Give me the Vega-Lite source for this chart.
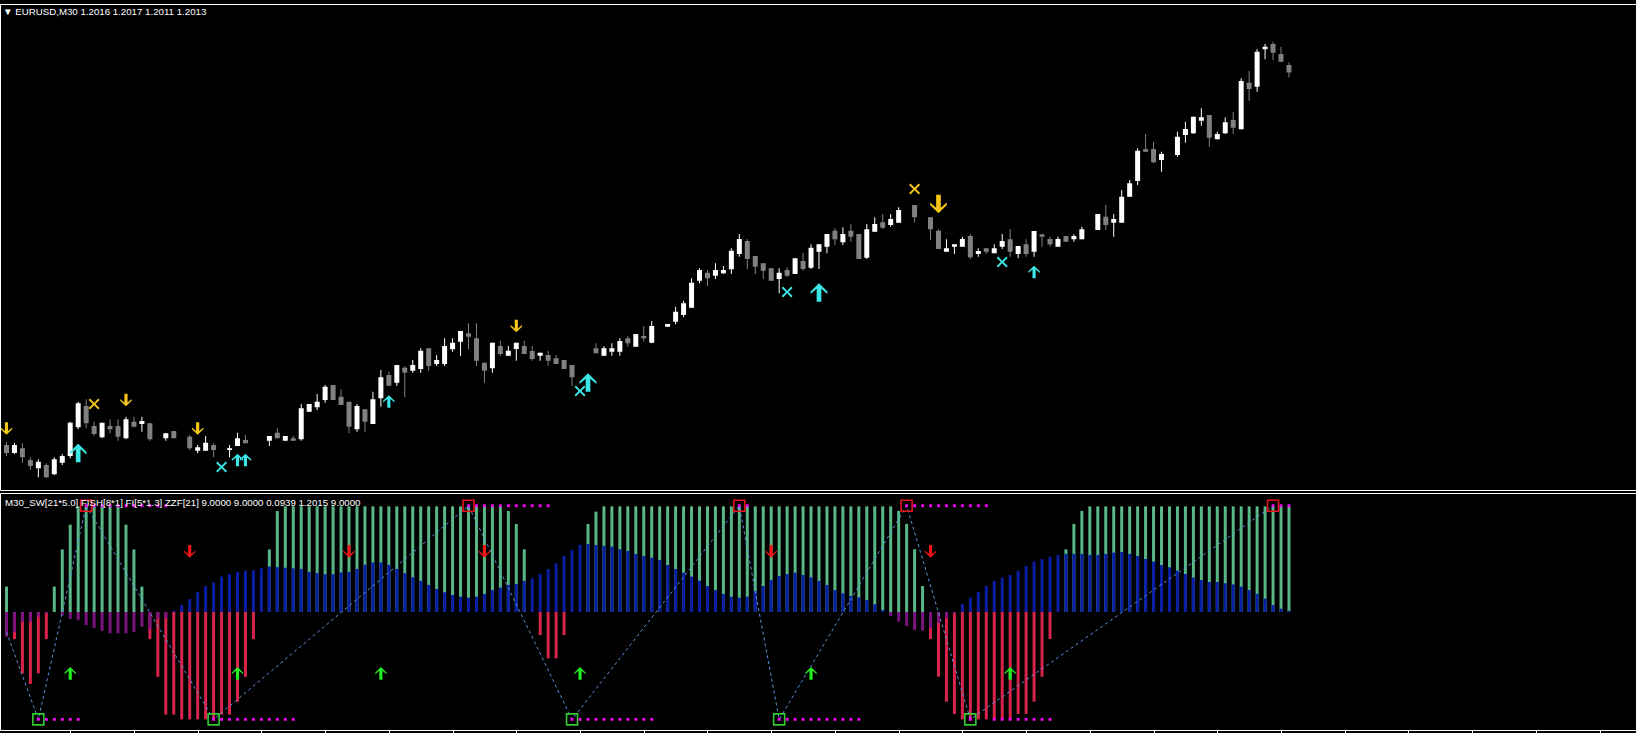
{
"$schema": "https://vega.github.io/schema/vega-lite/v6.json",
"background": "#000000",
"autosize": {"type": "none"},
"padding": {"left": 0, "top": 4, "right": 0, "bottom": 0},
"params": [{"name": "width", "value": 1636}, {"name": "height", "value": 729}],
"bounds": "flush",
"spacing": 3,
"config": {
  "view": {"stroke": "#ffffff", "strokeWidth": 1},
  "axis": {"grid": false, "labels": false, "domain": false, "ticks": true, "tickColor": "#ffffff", "tickSize": 3, "tickWidth": 1, "title": null}
},
"datasets": {
"candles": [
{"i":0,"o":1.1864,"h":1.18652,"l":1.18596,"c":1.18608},
{"i":1,"o":1.18608,"h":1.18649,"l":1.18604,"c":1.1864},
{"i":2,"o":1.18627,"h":1.18647,"l":1.18569,"c":1.18591},
{"i":3,"o":1.1858,"h":1.18591,"l":1.1854,"c":1.18556},
{"i":4,"o":1.18547,"h":1.18583,"l":1.18511,"c":1.18573},
{"i":5,"o":1.1856,"h":1.18567,"l":1.18508,"c":1.18511},
{"i":6,"o":1.18523,"h":1.18591,"l":1.1852,"c":1.18583},
{"i":7,"o":1.18569,"h":1.18604,"l":1.1856,"c":1.18596},
{"i":8,"o":1.18596,"h":1.18733,"l":1.18587,"c":1.18729},
{"i":9,"o":1.18711,"h":1.18813,"l":1.18703,"c":1.18807},
{"i":10,"o":1.18796,"h":1.18823,"l":1.18707,"c":1.18727},
{"i":11,"o":1.18716,"h":1.18733,"l":1.18676,"c":1.18684},
{"i":12,"o":1.18671,"h":1.18729,"l":1.18667,"c":1.18729},
{"i":13,"o":1.18716,"h":1.18743,"l":1.18687,"c":1.18703},
{"i":14,"o":1.18716,"h":1.18743,"l":1.18657,"c":1.18673},
{"i":15,"o":1.18667,"h":1.18753,"l":1.18663,"c":1.18743},
{"i":16,"o":1.18733,"h":1.18753,"l":1.18711,"c":1.18713},
{"i":17,"o":1.18724,"h":1.18753,"l":1.18693,"c":1.18736},
{"i":18,"o":1.18727,"h":1.18729,"l":1.18657,"c":1.18663},
{"i":20,"o":1.18667,"h":1.18687,"l":1.18657,"c":1.18687},
{"i":21,"o":1.18696,"h":1.18696,"l":1.18667,"c":1.18667},
{"i":23,"o":1.18673,"h":1.1868,"l":1.1862,"c":1.18627},
{"i":24,"o":1.18617,"h":1.1864,"l":1.18607,"c":1.18631},
{"i":25,"o":1.18617,"h":1.18676,"l":1.18617,"c":1.18649},
{"i":26,"o":1.1864,"h":1.18647,"l":1.18591,"c":1.1862},
{"i":28,"o":1.1862,"h":1.1864,"l":1.18591,"c":1.18627},
{"i":29,"o":1.18636,"h":1.18689,"l":1.18636,"c":1.18667},
{"i":30,"o":1.1866,"h":1.1868,"l":1.18647,"c":1.18647},
{"i":33,"o":1.18657,"h":1.18676,"l":1.18636,"c":1.18676},
{"i":34,"o":1.18689,"h":1.18707,"l":1.18667,"c":1.18667},
{"i":35,"o":1.18657,"h":1.18676,"l":1.18657,"c":1.18676},
{"i":36,"o":1.18667,"h":1.18676,"l":1.18657,"c":1.18657},
{"i":37,"o":1.18663,"h":1.18804,"l":1.18657,"c":1.18787},
{"i":38,"o":1.18773,"h":1.18804,"l":1.18773,"c":1.18804},
{"i":39,"o":1.18791,"h":1.18844,"l":1.1878,"c":1.18813},
{"i":40,"o":1.1882,"h":1.1888,"l":1.18809,"c":1.18873},
{"i":41,"o":1.1888,"h":1.1888,"l":1.1882,"c":1.1882},
{"i":42,"o":1.18833,"h":1.18863,"l":1.188,"c":1.188},
{"i":43,"o":1.18813,"h":1.18813,"l":1.18687,"c":1.18713},
{"i":44,"o":1.18703,"h":1.18804,"l":1.18693,"c":1.18796},
{"i":45,"o":1.18783,"h":1.18783,"l":1.18693,"c":1.18733},
{"i":46,"o":1.18724,"h":1.18853,"l":1.18724,"c":1.18823},
{"i":47,"o":1.18827,"h":1.1894,"l":1.18793,"c":1.18911},
{"i":48,"o":1.1892,"h":1.18933,"l":1.18877,"c":1.18877},
{"i":49,"o":1.18889,"h":1.1896,"l":1.18876,"c":1.1896},
{"i":50,"o":1.18949,"h":1.18956,"l":1.18831,"c":1.18929},
{"i":51,"o":1.18937,"h":1.1898,"l":1.18929,"c":1.1896},
{"i":52,"o":1.18944,"h":1.19027,"l":1.18929,"c":1.19017},
{"i":53,"o":1.19027,"h":1.19027,"l":1.18937,"c":1.18956},
{"i":54,"o":1.18964,"h":1.19,"l":1.18956,"c":1.1898},
{"i":55,"o":1.18964,"h":1.19067,"l":1.18956,"c":1.19036},
{"i":56,"o":1.19023,"h":1.19067,"l":1.19013,"c":1.19049},
{"i":57,"o":1.19053,"h":1.19096,"l":1.18996,"c":1.19096},
{"i":58,"o":1.19087,"h":1.19127,"l":1.19023,"c":1.19073},
{"i":59,"o":1.19067,"h":1.19127,"l":1.18956,"c":1.18977},
{"i":60,"o":1.18969,"h":1.18969,"l":1.18889,"c":1.18937},
{"i":61,"o":1.18947,"h":1.19049,"l":1.18929,"c":1.19049},
{"i":62,"o":1.19036,"h":1.19057,"l":1.18996,"c":1.19004},
{"i":63,"o":1.18997,"h":1.19036,"l":1.18997,"c":1.19017},
{"i":64,"o":1.19024,"h":1.19049,"l":1.18977,"c":1.19049},
{"i":65,"o":1.19036,"h":1.19057,"l":1.19004,"c":1.19004},
{"i":66,"o":1.19016,"h":1.19036,"l":1.18977,"c":1.18984},
{"i":67,"o":1.18997,"h":1.19009,"l":1.18977,"c":1.19009},
{"i":68,"o":1.19,"h":1.19016,"l":1.18957,"c":1.18977},
{"i":69,"o":1.18987,"h":1.19,"l":1.18964,"c":1.18964},
{"i":70,"o":1.1898,"h":1.1898,"l":1.18944,"c":1.18944},
{"i":71,"o":1.1896,"h":1.1896,"l":1.18876,"c":1.18911},
{"i":74,"o":1.19027,"h":1.19047,"l":1.19007,"c":1.19007},
{"i":75,"o":1.18997,"h":1.19036,"l":1.18997,"c":1.19027},
{"i":76,"o":1.19013,"h":1.19047,"l":1.18997,"c":1.19027},
{"i":77,"o":1.19013,"h":1.19067,"l":1.18997,"c":1.19056},
{"i":78,"o":1.19067,"h":1.19076,"l":1.19033,"c":1.19047},
{"i":79,"o":1.19033,"h":1.19084,"l":1.19033,"c":1.19084},
{"i":80,"o":1.19076,"h":1.19116,"l":1.19053,"c":1.19067},
{"i":81,"o":1.19049,"h":1.19136,"l":1.19047,"c":1.19116},
{"i":83,"o":1.19113,"h":1.19124,"l":1.19113,"c":1.19124},
{"i":84,"o":1.19133,"h":1.19193,"l":1.19123,"c":1.19173},
{"i":85,"o":1.1916,"h":1.19217,"l":1.19151,"c":1.19207},
{"i":86,"o":1.19189,"h":1.19307,"l":1.19189,"c":1.19289},
{"i":87,"o":1.19297,"h":1.19347,"l":1.19287,"c":1.1934},
{"i":88,"o":1.19329,"h":1.1934,"l":1.19276,"c":1.19307},
{"i":89,"o":1.19317,"h":1.19367,"l":1.19304,"c":1.1934},
{"i":90,"o":1.19327,"h":1.19356,"l":1.19324,"c":1.1934},
{"i":91,"o":1.19343,"h":1.19427,"l":1.19324,"c":1.19417},
{"i":92,"o":1.19404,"h":1.19484,"l":1.19393,"c":1.19464},
{"i":93,"o":1.19456,"h":1.19464,"l":1.19344,"c":1.19384},
{"i":94,"o":1.19396,"h":1.19396,"l":1.19324,"c":1.19353},
{"i":95,"o":1.19367,"h":1.19367,"l":1.19304,"c":1.19337},
{"i":96,"o":1.19347,"h":1.19347,"l":1.19297,"c":1.19297},
{"i":97,"o":1.19304,"h":1.19347,"l":1.19247,"c":1.19329},
{"i":98,"o":1.1934,"h":1.19351,"l":1.19313,"c":1.19317},
{"i":99,"o":1.19324,"h":1.19387,"l":1.19324,"c":1.19387},
{"i":100,"o":1.19376,"h":1.19409,"l":1.19337,"c":1.19344},
{"i":101,"o":1.19349,"h":1.19443,"l":1.19344,"c":1.19429},
{"i":102,"o":1.19413,"h":1.19443,"l":1.19344,"c":1.19443},
{"i":103,"o":1.19433,"h":1.19484,"l":1.19407,"c":1.19484},
{"i":104,"o":1.19497,"h":1.19507,"l":1.1944,"c":1.19463},
{"i":105,"o":1.19451,"h":1.19511,"l":1.1944,"c":1.19484},
{"i":106,"o":1.19497,"h":1.19524,"l":1.19453,"c":1.19473},
{"i":107,"o":1.19484,"h":1.19484,"l":1.19384,"c":1.19384},
{"i":108,"o":1.19389,"h":1.19524,"l":1.19384,"c":1.19503},
{"i":109,"o":1.19493,"h":1.19551,"l":1.19493,"c":1.19524},
{"i":110,"o":1.19531,"h":1.19564,"l":1.19503,"c":1.19509},
{"i":111,"o":1.1952,"h":1.19564,"l":1.19513,"c":1.19544},
{"i":112,"o":1.19529,"h":1.19591,"l":1.19529,"c":1.1958},
{"i":114,"o":1.196,"h":1.196,"l":1.19529,"c":1.19551},
{"i":116,"o":1.19551,"h":1.19551,"l":1.1946,"c":1.19503},
{"i":117,"o":1.19497,"h":1.19503,"l":1.19424,"c":1.19424},
{"i":118,"o":1.19413,"h":1.19463,"l":1.19413,"c":1.19427},
{"i":119,"o":1.19433,"h":1.19443,"l":1.19404,"c":1.19443},
{"i":120,"o":1.19433,"h":1.19473,"l":1.19433,"c":1.19464},
{"i":121,"o":1.19476,"h":1.19484,"l":1.19384,"c":1.19391},
{"i":122,"o":1.19404,"h":1.19427,"l":1.19393,"c":1.19416},
{"i":123,"o":1.19427,"h":1.19427,"l":1.19404,"c":1.19413},
{"i":124,"o":1.19407,"h":1.19443,"l":1.19407,"c":1.19427},
{"i":125,"o":1.19433,"h":1.19484,"l":1.19424,"c":1.19456},
{"i":126,"o":1.19463,"h":1.19504,"l":1.19393,"c":1.19413},
{"i":127,"o":1.19404,"h":1.19436,"l":1.19387,"c":1.19436},
{"i":128,"o":1.19443,"h":1.19463,"l":1.19393,"c":1.19404},
{"i":129,"o":1.19413,"h":1.19496,"l":1.19393,"c":1.19496},
{"i":130,"o":1.19483,"h":1.19483,"l":1.19433,"c":1.19473},
{"i":131,"o":1.19464,"h":1.19473,"l":1.19433,"c":1.19443},
{"i":132,"o":1.19433,"h":1.19473,"l":1.19433,"c":1.19464},
{"i":133,"o":1.19476,"h":1.19476,"l":1.19453,"c":1.19453},
{"i":134,"o":1.19463,"h":1.19483,"l":1.19453,"c":1.19476},
{"i":135,"o":1.19463,"h":1.19513,"l":1.19463,"c":1.19503},
{"i":137,"o":1.195,"h":1.19564,"l":1.195,"c":1.19564},
{"i":138,"o":1.19553,"h":1.196,"l":1.195,"c":1.1952},
{"i":139,"o":1.19529,"h":1.19564,"l":1.19473,"c":1.19544},
{"i":140,"o":1.19529,"h":1.1966,"l":1.19529,"c":1.19633},
{"i":141,"o":1.19633,"h":1.197,"l":1.19633,"c":1.19687},
{"i":142,"o":1.19696,"h":1.19827,"l":1.1968,"c":1.19817},
{"i":143,"o":1.19823,"h":1.19884,"l":1.19813,"c":1.19813},
{"i":144,"o":1.19824,"h":1.19853,"l":1.19767,"c":1.19771},
{"i":145,"o":1.1978,"h":1.19813,"l":1.19733,"c":1.19804},
{"i":147,"o":1.198,"h":1.19893,"l":1.19793,"c":1.19873},
{"i":148,"o":1.1988,"h":1.19933,"l":1.19849,"c":1.19904},
{"i":149,"o":1.19887,"h":1.19953,"l":1.19884,"c":1.19953},
{"i":150,"o":1.19937,"h":1.19987,"l":1.19917,"c":1.19951},
{"i":151,"o":1.1996,"h":1.1996,"l":1.19833,"c":1.19869},
{"i":152,"o":1.19863,"h":1.19893,"l":1.19863,"c":1.19884},
{"i":153,"o":1.19887,"h":1.19951,"l":1.19884,"c":1.19931},
{"i":154,"o":1.1994,"h":1.19973,"l":1.19884,"c":1.19909},
{"i":155,"o":1.19903,"h":1.20107,"l":1.19903,"c":1.20096},
{"i":156,"o":1.20089,"h":1.20136,"l":1.20017,"c":1.20064},
{"i":157,"o":1.20073,"h":1.20223,"l":1.20053,"c":1.20213},
{"i":158,"o":1.20223,"h":1.20244,"l":1.20183,"c":1.20233},
{"i":159,"o":1.20244,"h":1.20253,"l":1.2018,"c":1.20209},
{"i":160,"o":1.20204,"h":1.20233,"l":1.20173,"c":1.20173},
{"i":161,"o":1.2016,"h":1.2017,"l":1.2011,"c":1.2013}
],
"signals": [
{"i":0,"p":1.18706,"s":"sell"},
{"i":15,"p":1.1882,"s":"sell"},
{"i":24,"p":1.18706,"s":"sell"},
{"i":64,"p":1.19116,"s":"sell"},
{"i":117,"p":1.19604,"s":"strong sell"},
{"i":11,"p":1.18804,"s":"exit buy"},
{"i":114,"p":1.19664,"s":"exit buy"},
{"i":9,"p":1.18608,"s":"strong buy"},
{"i":29,"p":1.1858,"s":"buy"},
{"i":30,"p":1.1858,"s":"buy"},
{"i":48,"p":1.18814,"s":"buy"},
{"i":73,"p":1.1889,"s":"strong buy"},
{"i":102,"p":1.1925,"s":"strong buy"},
{"i":129,"p":1.19332,"s":"buy"},
{"i":27,"p":1.18552,"s":"exit sell"},
{"i":72,"p":1.18856,"s":"exit sell"},
{"i":98,"p":1.19252,"s":"exit sell"},
{"i":125,"p":1.19372,"s":"exit sell"}
],
"osc": [
{"i":0,"a":2.15,"b":-2.1},{"i":1,"a":-2.3,"b":-1.7},{"i":2,"a":-5.2,"b":-0.85},{"i":3,"a":-6.1,"b":-0.85},
{"i":4,"a":-5.2,"b":-0.4},{"i":5,"a":-2.3,"b":-0.1},{"i":6,"a":2.15,"b":0},{"i":7,"a":5.3,"b":-0.3},
{"i":8,"a":7.4,"b":-0.6},{"i":9,"a":8.95,"b":-0.7},{"i":10,"a":8.95,"b":-1.1},{"i":11,"a":8.95,"b":-1.35},
{"i":12,"a":8.95,"b":-1.6},{"i":13,"a":8.95,"b":-1.8},{"i":14,"a":8.95,"b":-1.8},{"i":15,"a":7.4,"b":-1.8},
{"i":16,"a":5.3,"b":-1.7},{"i":17,"a":2.15,"b":-1.25},{"i":18,"a":-2.3,"b":-1.45},{"i":19,"a":-5.5,"b":-0.55},
{"i":20,"a":-8.7,"b":-0.55},{"i":21,"a":-8.7,"b":0.1},{"i":22,"a":-9.1,"b":0.6},{"i":23,"a":-9.1,"b":1.1},
{"i":24,"a":-9.1,"b":1.7},{"i":25,"a":-9.1,"b":2.2},{"i":26,"a":-9.1,"b":2.5},{"i":27,"a":-8.7,"b":3.0},
{"i":28,"a":-8.7,"b":3.2},{"i":29,"a":-7.6,"b":3.4},{"i":30,"a":-5.5,"b":3.5},{"i":31,"a":-2.3,"b":3.55},
{"i":32,"a":0,"b":3.7},{"i":33,"a":5.3,"b":3.85},{"i":34,"a":8.55,"b":3.8},{"i":35,"a":8.95,"b":3.75},
{"i":36,"a":8.95,"b":3.7},{"i":37,"a":8.95,"b":3.65},{"i":38,"a":8.95,"b":3.4},{"i":39,"a":8.95,"b":3.3},
{"i":40,"a":8.95,"b":3.2},{"i":41,"a":8.95,"b":3.2},{"i":42,"a":8.95,"b":3.35},{"i":43,"a":8.95,"b":3.4},
{"i":44,"a":8.95,"b":3.65},{"i":45,"a":8.95,"b":4.0},{"i":46,"a":8.95,"b":4.2},{"i":47,"a":8.95,"b":4.2},
{"i":48,"a":8.95,"b":4.0},{"i":49,"a":8.95,"b":3.64},{"i":50,"a":8.95,"b":3.28},{"i":51,"a":8.95,"b":2.94},
{"i":52,"a":8.95,"b":2.63},{"i":53,"a":8.95,"b":2.29},{"i":54,"a":8.95,"b":1.95},{"i":55,"a":8.95,"b":1.67},
{"i":56,"a":8.95,"b":1.44},{"i":57,"a":8.95,"b":1.3},{"i":58,"a":8.95,"b":1.21},{"i":59,"a":8.95,"b":1.3},
{"i":60,"a":8.95,"b":1.53},{"i":61,"a":8.95,"b":1.86},{"i":62,"a":8.95,"b":2.06},{"i":63,"a":8.56,"b":2.29},
{"i":64,"a":7.46,"b":2.37},{"i":65,"a":5.31,"b":2.63},{"i":66,"a":0,"b":2.85},{"i":67,"a":-1.95,"b":3.22},
{"i":68,"a":-3.93,"b":3.64},{"i":69,"a":-3.93,"b":4.12},{"i":70,"a":-1.95,"b":4.75},{"i":71,"a":0,"b":5.25},
{"i":72,"a":0,"b":5.68},{"i":73,"a":7.46,"b":5.76},{"i":74,"a":8.5,"b":5.68},{"i":75,"a":8.95,"b":5.6},
{"i":76,"a":8.95,"b":5.54},{"i":77,"a":8.95,"b":5.31},{"i":78,"a":8.95,"b":5.17},{"i":79,"a":8.95,"b":4.92},
{"i":80,"a":8.95,"b":4.75},{"i":81,"a":8.95,"b":4.6},{"i":82,"a":8.95,"b":4.4},{"i":83,"a":8.95,"b":3.98},
{"i":84,"a":8.95,"b":3.64},{"i":85,"a":8.95,"b":3.33},{"i":86,"a":8.95,"b":3.0},{"i":87,"a":8.95,"b":2.66},
{"i":88,"a":8.95,"b":2.2},{"i":89,"a":8.95,"b":1.86},{"i":90,"a":8.95,"b":1.53},{"i":91,"a":8.95,"b":1.3},
{"i":92,"a":8.95,"b":1.21},{"i":93,"a":8.95,"b":1.3},{"i":94,"a":8.95,"b":1.78},{"i":95,"a":8.95,"b":2.2},
{"i":96,"a":8.95,"b":2.71},{"i":97,"a":8.95,"b":3.05},{"i":98,"a":8.95,"b":3.22},{"i":99,"a":8.95,"b":3.33},
{"i":100,"a":8.95,"b":3.14},{"i":101,"a":8.95,"b":2.94},{"i":102,"a":8.95,"b":2.63},{"i":103,"a":8.95,"b":2.29},
{"i":104,"a":8.95,"b":1.86},{"i":105,"a":8.95,"b":1.58},{"i":106,"a":8.95,"b":1.36},{"i":107,"a":8.95,"b":1.24},
{"i":108,"a":8.95,"b":1.02},{"i":109,"a":8.95,"b":0.65},{"i":110,"a":8.95,"b":0.17},{"i":111,"a":8.95,"b":-0.34},
{"i":112,"a":8.56,"b":-0.82},{"i":113,"a":7.46,"b":-1.19},{"i":114,"a":5.31,"b":-1.53},{"i":115,"a":2.2,"b":-1.58},
{"i":116,"a":-2.29,"b":-1.38},{"i":117,"a":-5.48,"b":-0.9},{"i":118,"a":-7.6,"b":-0.54},{"i":119,"a":-8.64,"b":-0.1},
{"i":120,"a":-9.1,"b":0.68},{"i":121,"a":-9.1,"b":1.21},{"i":122,"a":-9.1,"b":1.72},{"i":123,"a":-9.1,"b":2.2},
{"i":124,"a":-9.1,"b":2.63},{"i":125,"a":-9.1,"b":2.91},{"i":126,"a":-9.1,"b":3.14},{"i":127,"a":-8.64,"b":3.5},
{"i":128,"a":-8.64,"b":3.9},{"i":129,"a":-7.6,"b":4.27},{"i":130,"a":-5.48,"b":4.49},{"i":131,"a":-2.29,"b":4.69},
{"i":132,"a":0,"b":4.83},{"i":133,"a":5.31,"b":4.92},{"i":134,"a":7.46,"b":4.92},{"i":135,"a":8.56,"b":4.92},
{"i":136,"a":8.95,"b":4.83},{"i":137,"a":8.95,"b":4.83},{"i":138,"a":8.95,"b":4.92},{"i":139,"a":8.95,"b":5.03},
{"i":140,"a":8.95,"b":5.08},{"i":141,"a":8.95,"b":4.92},{"i":142,"a":8.95,"b":4.75},{"i":143,"a":8.95,"b":4.49},
{"i":144,"a":8.95,"b":4.27},{"i":145,"a":8.95,"b":3.98},{"i":146,"a":8.95,"b":3.79},{"i":147,"a":8.95,"b":3.5},
{"i":148,"a":8.95,"b":3.22},{"i":149,"a":8.95,"b":2.91},{"i":150,"a":8.95,"b":2.71},{"i":151,"a":8.95,"b":2.54},
{"i":152,"a":8.95,"b":2.54},{"i":153,"a":8.95,"b":2.43},{"i":154,"a":8.95,"b":2.34},{"i":155,"a":8.95,"b":2.15},
{"i":156,"a":8.95,"b":1.86},{"i":157,"a":8.95,"b":1.53},{"i":158,"a":8.95,"b":1.13},{"i":159,"a":8.95,"b":0.59},
{"i":160,"a":8.95,"b":0.28},{"i":161,"a":8.95,"b":0.11}
],
"zigzag": [
{"i":0,"v":-1.7},{"i":4,"v":-9.1},{"i":10,"v":9.0},{"i":26,"v":-9.1},{"i":58,"v":9.0},{"i":71,"v":-9.1},
{"i":92,"v":9.0},{"i":97,"v":-9.1},{"i":113,"v":9.0},{"i":121,"v":-9.1},{"i":159,"v":9.0}
],
"pivots": [
{"i":4,"v":-9.1,"k":"low"},{"i":10,"v":9.0,"k":"high"},{"i":26,"v":-9.1,"k":"low"},{"i":58,"v":9.0,"k":"high"},
{"i":71,"v":-9.1,"k":"low"},{"i":92,"v":9.0,"k":"high"},{"i":97,"v":-9.1,"k":"low"},{"i":113,"v":9.0,"k":"high"},
{"i":121,"v":-9.1,"k":"low"},{"i":159,"v":9.0,"k":"high"}
],
"dots": [
{"i":4,"v":-9.1},{"i":5,"v":-9.1},{"i":6,"v":-9.1},{"i":7,"v":-9.1},{"i":8,"v":-9.1},{"i":9,"v":-9.1},
{"i":10,"v":9.0},{"i":11,"v":9.0},{"i":12,"v":9.0},{"i":13,"v":9.0},{"i":14,"v":9.0},{"i":15,"v":9.0},{"i":16,"v":9.0},{"i":17,"v":9.0},{"i":18,"v":9.0},{"i":19,"v":9.0},{"i":20,"v":9.0},
{"i":26,"v":-9.1},{"i":27,"v":-9.1},{"i":28,"v":-9.1},{"i":29,"v":-9.1},{"i":30,"v":-9.1},{"i":31,"v":-9.1},{"i":32,"v":-9.1},{"i":33,"v":-9.1},{"i":34,"v":-9.1},{"i":35,"v":-9.1},{"i":36,"v":-9.1},
{"i":58,"v":9.0},{"i":59,"v":9.0},{"i":60,"v":9.0},{"i":61,"v":9.0},{"i":62,"v":9.0},{"i":63,"v":9.0},{"i":64,"v":9.0},{"i":65,"v":9.0},{"i":66,"v":9.0},{"i":67,"v":9.0},{"i":68,"v":9.0},
{"i":71,"v":-9.1},{"i":72,"v":-9.1},{"i":73,"v":-9.1},{"i":74,"v":-9.1},{"i":75,"v":-9.1},{"i":76,"v":-9.1},{"i":77,"v":-9.1},{"i":78,"v":-9.1},{"i":79,"v":-9.1},{"i":80,"v":-9.1},{"i":81,"v":-9.1},
{"i":92,"v":9.0},{"i":93,"v":9.0},
{"i":97,"v":-9.1},{"i":98,"v":-9.1},{"i":99,"v":-9.1},{"i":100,"v":-9.1},{"i":101,"v":-9.1},{"i":102,"v":-9.1},{"i":103,"v":-9.1},{"i":104,"v":-9.1},{"i":105,"v":-9.1},{"i":106,"v":-9.1},{"i":107,"v":-9.1},
{"i":113,"v":9.0},{"i":114,"v":9.0},{"i":115,"v":9.0},{"i":116,"v":9.0},{"i":117,"v":9.0},{"i":118,"v":9.0},{"i":119,"v":9.0},{"i":120,"v":9.0},{"i":121,"v":9.0},{"i":122,"v":9.0},{"i":123,"v":9.0},
{"i":121,"v":-9.1},{"i":124,"v":-9.1},{"i":125,"v":-9.1},{"i":126,"v":-9.1},{"i":127,"v":-9.1},{"i":128,"v":-9.1},{"i":129,"v":-9.1},{"i":130,"v":-9.1},{"i":131,"v":-9.1},
{"i":159,"v":9.0},{"i":160,"v":9.0},{"i":161,"v":9.0}
],
"oscSignals": [
{"i":23,"v":5.13,"s":"sell"},{"i":43,"v":5.13,"s":"sell"},{"i":60,"v":5.13,"s":"sell"},{"i":96,"v":5.13,"s":"sell"},{"i":116,"v":5.13,"s":"sell"},
{"i":8,"v":-5.2,"s":"buy"},{"i":29,"v":-5.2,"s":"buy"},{"i":47,"v":-5.2,"s":"buy"},{"i":72,"v":-5.2,"s":"buy"},{"i":101,"v":-5.2,"s":"buy"},{"i":126,"v":-5.2,"s":"buy"}
]
},
"vconcat": [
{
  "width": 1633, "height": 486,
  "title": {"text": "▼  EURUSD,M30  1.2016 1.2017 1.2011 1.2013", "anchor": "start", "frame": "group", "orient": "top", "offset": -18, "baseline": "middle", "dx": 3, "color": "#ffffff", "font": "Liberation Sans", "fontSize": 9.7, "fontWeight": "normal"},
  "encoding": {"x": {"field": "i", "type": "quantitative", "scale": {"domain": [-0.1875, 203.9375], "nice": false, "zero": false}, "axis": null}},
  "layer": [
    {"data": {"name": "candles"}, "mark": {"type": "rule", "strokeWidth": 1, "clip": true},
     "encoding": {
       "y": {"field": "l", "type": "quantitative", "scale": {"domain": [1.1846, 1.20404], "nice": false, "zero": false},
             "axis": {"orient": "right", "values": [1.20248, 1.20102, 1.19957, 1.19811, 1.19666, 1.1952, 1.19374, 1.19229, 1.19083, 1.18938, 1.18792, 1.18646, 1.18501]}},
       "y2": {"field": "h"},
       "color": {"condition": {"test": "datum.c < datum.o", "value": "#808080"}, "value": "#ffffff"}}},
    {"data": {"name": "candles"}, "mark": {"type": "bar", "width": 5, "clip": true},
     "encoding": {
       "y": {"field": "o", "type": "quantitative", "scale": {"domain": [1.1846, 1.20404], "nice": false, "zero": false}, "axis": null},
       "y2": {"field": "c"},
       "color": {"condition": {"test": "datum.c < datum.o", "value": "#808080"}, "value": "#ffffff"}}},
    {"data": {"name": "signals"}, "mark": {"type": "point", "filled": true, "opacity": 1, "strokeWidth": 0, "clip": true},
     "encoding": {
       "y": {"field": "p", "type": "quantitative", "scale": {"domain": [1.1846, 1.20404], "nice": false, "zero": false}, "axis": null},
       "shape": {"field": "s", "type": "nominal", "legend": null, "scale": {"domain": ["sell", "strong sell", "buy", "strong buy", "exit buy", "exit sell"], "range": [
          "M0,1L0.9,0.1L0.9,-0.15L0.25,0.4L0.25,-1L-0.25,-1L-0.25,0.4L-0.9,-0.15L-0.9,0.1Z",
          "M0,1L0.9,0.1L0.9,-0.15L0.25,0.4L0.25,-1L-0.25,-1L-0.25,0.4L-0.9,-0.15L-0.9,0.1Z",
          "M0,-1L0.9,-0.1L0.9,0.15L0.25,-0.4L0.25,1L-0.25,1L-0.25,-0.4L-0.9,0.15L-0.9,-0.1Z",
          "M0,-1L0.9,-0.1L0.9,0.15L0.25,-0.4L0.25,1L-0.25,1L-0.25,-0.4L-0.9,0.15L-0.9,-0.1Z",
          "M-1,-0.75L-0.75,-1L0,-0.25L0.75,-1L1,-0.75L0.25,0L1,0.75L0.75,1L0,0.25L-0.75,1L-1,0.75L-0.25,0Z",
          "M-1,-0.75L-0.75,-1L0,-0.25L0.75,-1L1,-0.75L0.25,0L1,0.75L0.75,1L0,0.25L-0.75,1L-1,0.75L-0.25,0Z"]}},
       "color": {"field": "s", "type": "nominal", "legend": null, "scale": {"domain": ["sell", "strong sell", "buy", "strong buy", "exit buy", "exit sell"], "range": ["#f5c518", "#f5c518", "#3ce6e6", "#3ce6e6", "#f5c518", "#3ce6e6"]}},
       "size": {"field": "s", "type": "nominal", "legend": null, "scale": {"type": "ordinal", "domain": ["sell", "strong sell", "buy", "strong buy", "exit buy", "exit sell"], "range": [160, 350, 160, 350, 120, 120]}}}}
  ]
},
{
  "width": 1633, "height": 237,
  "title": {"text": "M30_SW[21*5.0] FISH[8*1] FI[5*1.3] ZZF[21] 9.0000 9.0000 0.0939 1.2015 9.0000", "anchor": "start", "frame": "group", "orient": "top", "offset": -20, "baseline": "middle", "dx": 5, "color": "#ffffff", "font": "Liberation Sans", "fontSize": 9.7, "fontWeight": "normal"},
  "encoding": {"x": {"field": "i", "type": "quantitative", "scale": {"domain": [-0.1875, 203.9375], "nice": false, "zero": false},
     "axis": {"orient": "bottom", "values": [8,16,24,32,40,48,56,64,72,80,88,96,104,112,120,128,136,144,152,160,168,176,184,192,200]}}},
  "layer": [
    {"data": {"name": "osc"}, "mark": {"type": "bar", "width": 3},
     "encoding": {
       "y": {"field": "a", "type": "quantitative", "scale": {"domain": [-10, 10.08], "nice": false, "zero": false}, "axis": {"orient": "right", "values": [-9.9, 0, 9.75]}},
       "y2": {"datum": 0},
       "color": {"condition": {"test": "datum.a < 0", "value": "#d8234a"}, "value": "#58b885"}}},
    {"data": {"name": "osc"}, "mark": {"type": "bar", "width": 3},
     "encoding": {
       "y": {"field": "b", "type": "quantitative", "scale": {"domain": [-10, 10.08], "nice": false, "zero": false}, "axis": null},
       "y2": {"datum": 0},
       "color": {"condition": {"test": "datum.b < 0", "value": "#7c137f"}, "value": "#0a1ea4"}}},
    {"data": {"name": "zigzag"}, "mark": {"type": "line", "strokeDash": [3, 3], "strokeWidth": 1, "color": "#5b95dc"},
     "encoding": {"y": {"field": "v", "type": "quantitative", "scale": {"domain": [-10, 10.08], "nice": false, "zero": false}, "axis": null}}},
    {"data": {"name": "pivots"}, "mark": {"type": "point", "shape": "square", "filled": false, "size": 121, "strokeWidth": 1.6, "opacity": 1},
     "encoding": {"y": {"field": "v", "type": "quantitative", "scale": {"domain": [-10, 10.08], "nice": false, "zero": false}, "axis": null},
       "color": {"field": "k", "type": "nominal", "legend": null, "scale": {"domain": ["high", "low"], "range": ["#e8141e", "#33cc33"]}}}},
    {"data": {"name": "dots"}, "mark": {"type": "point", "shape": "square", "filled": true, "size": 8, "color": "#ff00ff", "opacity": 1},
     "encoding": {"y": {"field": "v", "type": "quantitative", "scale": {"domain": [-10, 10.08], "nice": false, "zero": false}, "axis": null}}},
    {"data": {"name": "oscSignals"}, "mark": {"type": "point", "filled": true, "opacity": 1, "strokeWidth": 0, "size": 160},
     "encoding": {"y": {"field": "v", "type": "quantitative", "scale": {"domain": [-10, 10.08], "nice": false, "zero": false}, "axis": null},
       "shape": {"field": "s", "type": "nominal", "legend": null, "scale": {"domain": ["sell", "buy"], "range": [
          "M0,1L0.9,0.1L0.9,-0.15L0.25,0.4L0.25,-1L-0.25,-1L-0.25,0.4L-0.9,-0.15L-0.9,0.1Z",
          "M0,-1L0.9,-0.1L0.9,0.15L0.25,-0.4L0.25,1L-0.25,1L-0.25,-0.4L-0.9,0.15L-0.9,-0.1Z"]}},
       "color": {"field": "s", "type": "nominal", "legend": null, "scale": {"domain": ["sell", "buy"], "range": ["#f01414", "#22ee22"]}}}}
  ],
  "resolve": {"scale": {"color": "independent", "shape": "independent"}}
}
]
}
